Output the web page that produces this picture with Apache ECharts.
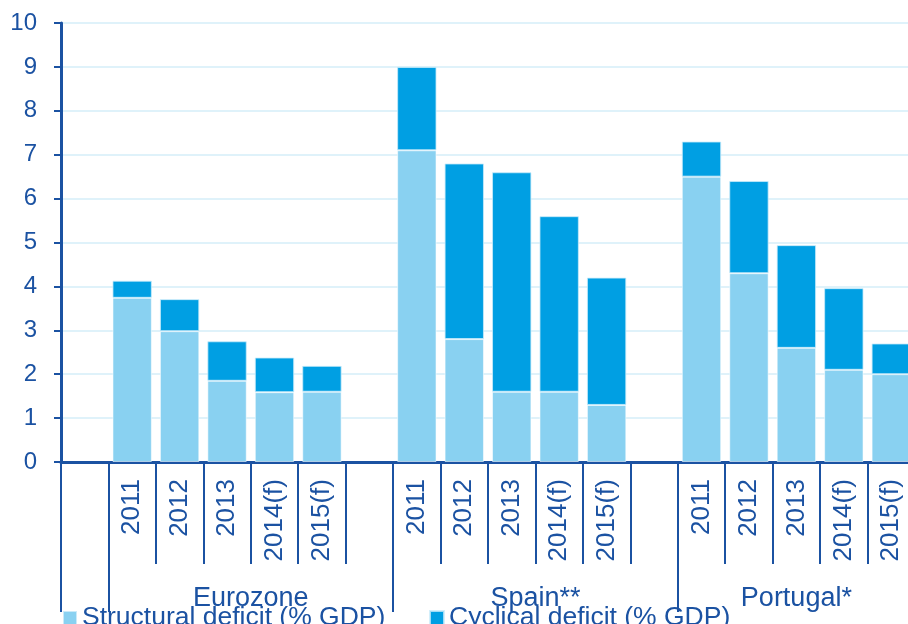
<!DOCTYPE html>
<html>
<head>
<meta charset="utf-8">
<script src="https://cdn.jsdelivr.net/npm/echarts@6/dist/echarts.min.js"></script>
<style>
  html, body { margin: 0; padding: 0; background: #ffffff; }
  #chart { width: 908px; height: 624px; }
</style>
</head>
<body>
<div id="chart"></div>
<script>
// Year labels per slot; '' marks a spacer slot between country groups
const categories = ['', '2011', '2012', '2013', '2014(f)', '2015(f)',
                    '', '2011', '2012', '2013', '2014(f)', '2015(f)',
                    '', '2011', '2012', '2013', '2014(f)', '2015(f)'];

// Structural deficit (% GDP)
const structural = [null, 3.74, 2.98, 1.85, 1.59, 1.60,
                    null, 7.10, 2.80, 1.60, 1.60, 1.30,
                    null, 6.50, 4.30, 2.60, 2.10, 2.00];

// Cyclical deficit (% GDP)
const cyclical = [null, 0.39, 0.73, 0.90, 0.79, 0.59,
                  null, 1.90, 4.00, 5.00, 4.00, 2.90,
                  null, 0.80, 2.10, 2.34, 1.86, 0.70];

// Country groups and how many slots each spans (first slot is a lone spacer)
const groupNames = ['Eurozone', 'Spain**', 'Portugal*'];
const groupSlots = [6, 6, 5];
const leadSlots = 1;

const yTicks = [0, 1, 2, 3, 4, 5, 6, 7, 8, 9, 10];

const seriesNames = ['Structural deficit (% GDP)', 'Cyclical deficit (% GDP)'];

// Group boundaries and centres in slot units
const groupBounds = [0, leadSlots];
const groupCentres = [];
let pos = leadSlots;
groupSlots.forEach(n => {
  groupCentres.push(pos + n / 2);
  pos += n;
  if (pos < categories.length) groupBounds.push(pos);
});

const ink = '#1B52A2';
const fontFamily = 'Liberation Sans, Arial, sans-serif';

const chart = echarts.init(document.getElementById('chart'), null, { renderer: 'canvas' });

const legendText = { fontSize: 26.5, lineHeight: 28, color: ink, fontFamily: fontFamily, padding: [8, 0, 0, 0] };

chart.setOption({
  animation: false,
  backgroundColor: '#ffffff',
  textStyle: { fontFamily: fontFamily, color: ink },
  // the last slot runs past the right edge of the canvas
  grid: { left: 61, top: 23, width: 854, height: 439, containLabel: false, outerBoundsMode: 'none' },
  legend: [
    {
      data: [seriesNames[0]],
      left: 62, top: 600, padding: 0,
      itemWidth: 14, itemHeight: 14, itemGap: 6,
      icon: 'rect',
      textStyle: legendText
    },
    {
      data: [seriesNames[1]],
      left: 429, top: 600, padding: 0,
      itemWidth: 14, itemHeight: 14, itemGap: 6,
      icon: 'rect',
      textStyle: legendText
    }
  ],
  xAxis: [
    {
      type: 'category',
      data: categories,
      position: 'bottom',
      boundaryGap: true,
      axisLine: { show: true, lineStyle: { color: ink, width: 3 } },
      axisTick: { show: true, interval: 0, length: 102, lineStyle: { color: ink, width: 2 } },
      axisLabel: {
        interval: 0, rotate: 90, margin: 17,
        fontSize: 26, color: ink, fontFamily: fontFamily
      },
      splitLine: { show: false }
    },
    {
      type: 'value',
      min: 0, max: categories.length,
      position: 'bottom',
      axisLine: { show: false },
      axisTick: {
        show: true, length: 150, inside: false,
        customValues: groupBounds,
        lineStyle: { color: ink, width: 2 }
      },
      axisLabel: {
        show: true, margin: 123,
        customValues: groupCentres,
        fontSize: 27, color: ink, fontFamily: fontFamily,
        formatter: function (v) {
          const i = groupCentres.indexOf(v);
          return i >= 0 ? groupNames[i] : '';
        }
      },
      splitLine: { show: false }
    }
  ],
  yAxis: {
    type: 'value',
    min: yTicks[0], max: yTicks[yTicks.length - 1], interval: 1,
    axisLine: { show: true, lineStyle: { color: ink, width: 3 } },
    axisTick: { show: true, length: 7, lineStyle: { color: ink, width: 2 } },
    axisLabel: { fontSize: 24, color: ink, margin: 24, fontFamily: fontFamily },
    splitLine: { show: true, lineStyle: { color: '#D4EEF9', width: 1.5 } }
  },
  series: [
    {
      name: seriesNames[0],
      type: 'bar',
      stack: 'deficit',
      data: structural,
      barCategoryGap: '17%',
      itemStyle: { color: '#89D1F1', borderColor: 'rgba(255,255,255,0.55)', borderWidth: 1 }
    },
    {
      name: seriesNames[1],
      type: 'bar',
      stack: 'deficit',
      data: cyclical,
      barCategoryGap: '17%',
      itemStyle: { color: '#009FE3', borderColor: 'rgba(200,235,250,0.8)', borderWidth: 1 }
    }
  ]
});
</script>
</body>
</html>
